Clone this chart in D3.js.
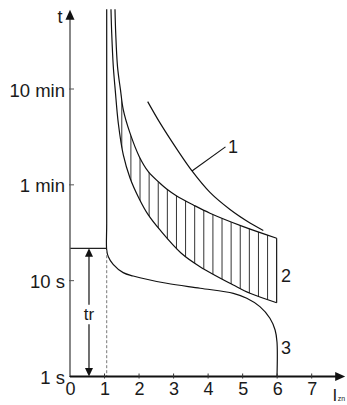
<!DOCTYPE html>
<html>
<head>
<meta charset="utf-8">
<script src="https://cdn.jsdelivr.net/npm/d3@7"></script>
<style>
  body { margin: 0; background: #fff; }
  text { font-family: Arial, "Liberation Sans", sans-serif; fill: #1a1a1a; }
</style>
</head>
<body>
<div id="chart"></div>
<script>
// x: current in multiples of In, y: time step index (0 = 1 s, 1 = 10 s, 2 = 1 min, 3 = 10 min)
var xTicks = [0, 1, 2, 3, 4, 5, 6, 7];
var yTickLabels = ["1 s", "10 s", "1 min", "10 min"];

var curve1 = [[2.250, 2.868], [2.606, 2.646], [3.090, 2.375], [3.533, 2.145], [4.054, 1.921],
              [4.634, 1.743], [5.213, 1.602], [5.598, 1.524]];
var band2Upper = [[1.303, 3.833], [1.324, 3.582], [1.376, 3.234], [1.462, 2.991], [1.544, 2.782],
                  [1.738, 2.539], [2.007, 2.294], [2.268, 2.138], [2.606, 2.017], [2.800, 1.957],
                  [3.090, 1.884], [3.571, 1.790], [4.054, 1.704], [5.019, 1.564], [5.986, 1.443]];
var band2Lower = [[1.187, 3.833], [1.208, 3.582], [1.254, 3.234], [1.312, 2.980], [1.399, 2.643],
                  [1.544, 2.312], [1.738, 2.072], [2.007, 1.853], [2.268, 1.686], [2.606, 1.529],
                  [3.215, 1.289], [3.765, 1.146], [4.729, 0.955], [5.213, 0.868], [5.986, 0.770]];
var curve3 = [[1.063, 3.833], [1.063, 1.6], [1.063, 1.32], [1.11, 1.25], [1.25, 1.17], [1.54, 1.084],
              [1.83, 1.049], [2.80, 0.973], [3.77, 0.921], [4.73, 0.868], [5.12, 0.816], [5.50, 0.729],
              [5.79, 0.608], [5.94, 0.485], [5.995, 0.36], [5.995, 0]];
var trLevel = 1.338;      // tr time level
var trArrowX = 0.55;
var hatchFrom = 1.5, hatchTo = 5.986, hatchCount = 18;

var width = 347, height = 405;
var svg = d3.select("#chart").append("svg")
    .attr("width", width)
    .attr("height", height);

var x = d3.scaleLinear().domain([0, 7]).range([70, 311.7]);
var y = d3.scaleLinear().domain([0, 3]).range([376.5, 89]);

var line = d3.line()
    .x(function(d) { return x(d[0]); })
    .y(function(d) { return y(d[1]); })
    .curve(d3.curveCatmullRom.alpha(0.5));

// hatched band (curve 2)
var bandPath = line(band2Upper) + "L" + line(band2Lower.slice().reverse()).slice(1) + "Z";
svg.append("clipPath").attr("id", "bandclip")
  .append("path").attr("d", bandPath);

var hatchX = d3.range(hatchCount).map(function(i) {
  return hatchFrom + i * (hatchTo - hatchFrom) / (hatchCount - 1);
});
svg.append("g").attr("clip-path", "url(#bandclip)")
  .selectAll("line").data(hatchX).enter().append("line")
    .attr("x1", function(d) { return x(d); })
    .attr("x2", function(d) { return x(d); })
    .attr("y1", y(0))
    .attr("y2", y(3.9))
    .attr("stroke", "#333")
    .attr("stroke-width", 1);
// right edge of band
svg.append("line")
    .attr("x1", x(5.986)).attr("x2", x(5.986))
    .attr("y1", y(band2Upper[band2Upper.length - 1][1]))
    .attr("y2", y(band2Lower[band2Lower.length - 1][1]))
    .attr("stroke", "#111").attr("stroke-width", 1.1);

[curve1, band2Upper, band2Lower, curve3].forEach(function(c) {
  svg.append("path")
      .attr("d", line(c))
      .attr("fill", "none")
      .attr("stroke", "#111")
      .attr("stroke-width", 1.2);
});

// tr marking
svg.append("line")
    .attr("x1", x(0)).attr("x2", x(1.063))
    .attr("y1", y(trLevel)).attr("y2", y(trLevel))
    .attr("stroke", "#222").attr("stroke-width", 1.2);
svg.append("line")
    .attr("x1", x(1.063)).attr("x2", x(1.063))
    .attr("y1", y(trLevel - 0.02)).attr("y2", y(0))
    .attr("stroke", "#777").attr("stroke-width", 1)
    .attr("stroke-dasharray", "3,2");

svg.append("line")
    .attr("x1", x(trArrowX)).attr("x2", x(trArrowX))
    .attr("y1", y(trLevel) + 6).attr("y2", y(0.75))
    .attr("stroke", "#111").attr("stroke-width", 1.2);
svg.append("line")
    .attr("x1", x(trArrowX)).attr("x2", x(trArrowX))
    .attr("y1", y(0.545)).attr("y2", y(0) - 6)
    .attr("stroke", "#111").attr("stroke-width", 1.2);
var ax = x(trArrowX);
svg.append("path")
    .attr("d", "M" + ax + "," + y(trLevel) + "L" + (ax - 4) + "," + (y(trLevel) + 8.5) + "L" + (ax + 4) + "," + (y(trLevel) + 8.5) + "Z")
    .attr("fill", "#111");
svg.append("path")
    .attr("d", "M" + ax + "," + y(0) + "L" + (ax - 4) + "," + (y(0) - 8.5) + "L" + (ax + 4) + "," + (y(0) - 8.5) + "Z")
    .attr("fill", "#111");
svg.append("text")
    .attr("x", ax).attr("y", y(0.59))
    .attr("text-anchor", "middle")
    .style("font-size", "17px")
    .text("tr");

// y axis
var yTop = 3.826;
svg.append("line")
    .attr("x1", x(0)).attr("x2", x(0))
    .attr("y1", y(yTop) + 8).attr("y2", y(0))
    .attr("stroke", "#555").attr("stroke-width", 1.4);
svg.append("path")
    .attr("d", "M" + x(0) + "," + y(yTop) + "L" + (x(0) - 4.5) + "," + (y(yTop) + 10) + "L" + (x(0) + 4.5) + "," + (y(yTop) + 10) + "Z")
    .attr("fill", "#111");
svg.append("g").selectAll("line").data(yTickLabels).enter().append("line")
    .attr("x1", x(0) - 1).attr("x2", x(0) + 4)
    .attr("y1", function(d, i) { return y(i); })
    .attr("y2", function(d, i) { return y(i); })
    .attr("stroke", "#555").attr("stroke-width", 1);
svg.append("g").selectAll("text").data(yTickLabels).enter().append("text")
    .attr("x", x(0) - 5)
    .attr("y", function(d, i) { return y(i) + 7.6; })
    .attr("text-anchor", "end")
    .style("font-size", "18.5px")
    .text(function(d) { return d; });
svg.append("text")
    .attr("x", x(0) - 7.5).attr("y", 23.3)
    .attr("text-anchor", "end")
    .style("font-size", "18px")
    .text("t");

// x axis
var xEnd = 7.97;
svg.append("line")
    .attr("x1", x(0)).attr("x2", x(xEnd) - 8)
    .attr("y1", y(0)).attr("y2", y(0))
    .attr("stroke", "#111").attr("stroke-width", 2);
svg.append("path")
    .attr("d", "M" + x(xEnd) + "," + y(0) + "L" + (x(xEnd) - 10) + "," + (y(0) - 4.5) + "L" + (x(xEnd) - 10) + "," + (y(0) + 4.5) + "Z")
    .attr("fill", "#111");
svg.append("g").selectAll("line").data(xTicks.slice(1)).enter().append("line")
    .attr("x1", function(d) { return x(d); })
    .attr("x2", function(d) { return x(d); })
    .attr("y1", y(0) - 3).attr("y2", y(0) + 2)
    .attr("stroke", "#333").attr("stroke-width", 1);
svg.append("g").selectAll("text").data(xTicks).enter().append("text")
    .attr("x", function(d) { return x(d) + 0.5; })
    .attr("y", 395)
    .attr("text-anchor", "middle")
    .style("font-size", "18px")
    .text(function(d) { return d; });
var il = svg.append("text")
    .attr("x", 332.5).attr("y", 401)
    .style("font-size", "17px");
il.append("tspan").text("I");
il.append("tspan").attr("dx", 0.5).style("font-size", "7px").text("zn");

// curve labels
svg.append("line")
    .attr("x1", x(3.533)).attr("y1", y(2.145))
    .attr("x2", x(4.503)).attr("y2", y(2.396))
    .attr("stroke", "#111").attr("stroke-width", 1.1);
svg.append("text").attr("x", x(4.576)).attr("y", y(2.33))
    .style("font-size", "18px").text("1");
svg.append("text").attr("x", x(6.11)).attr("y", y(0.99))
    .style("font-size", "18px").text("2");
svg.append("text").attr("x", x(6.11)).attr("y", y(0.235))
    .style("font-size", "18px").text("3");
</script>
</body>
</html>
